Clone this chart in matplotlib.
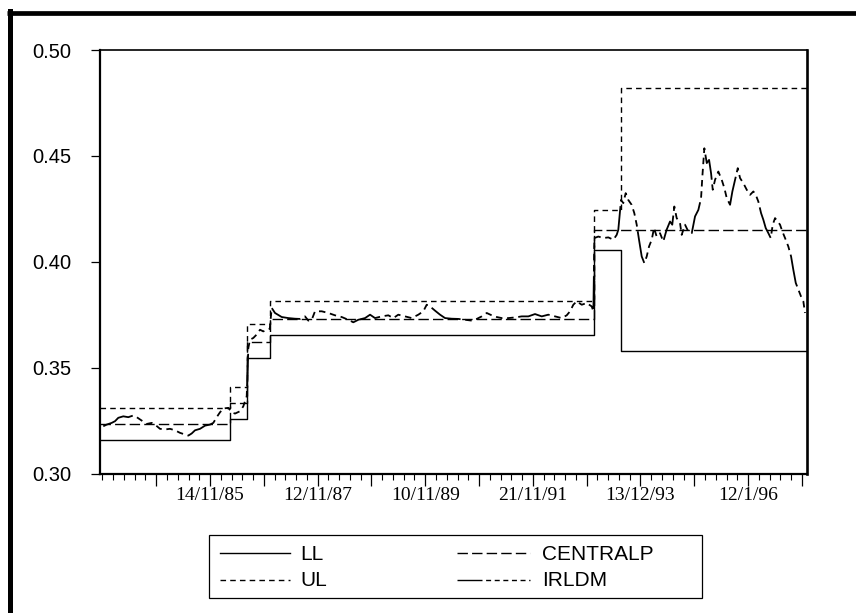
import matplotlib
matplotlib.use("Agg")
import matplotlib.pyplot as plt
from matplotlib.lines import Line2D
from matplotlib.patches import Rectangle
from matplotlib.ticker import FixedLocator, FormatStrFormatter
import numpy as np

# Band regimes: start of each parity grid (axis years), end of sample
regime_start = [1983.83, 1986.25, 1986.56, 1986.99, 1993.01, 1993.51]
regime_end = 1996.97
central = [0.3233, 0.3333, 0.3622, 0.3731, 0.4148, 0.4148]
upper = [0.3311, 0.3409, 0.3706, 0.3817, 0.4245, 0.4819]
lower = [0.3159, 0.3256, 0.3546, 0.3652, 0.4057, 0.3580]

# IRLDM spot rate
irl_t = [1983.891, 1983.955, 1984.047, 1984.109, 1984.170, 1984.263, 1984.356, 1984.449,
         1984.512, 1984.605, 1984.698, 1984.791, 1984.852, 1984.945, 1985.038, 1985.131,
         1985.224, 1985.317, 1985.410, 1985.471, 1985.534, 1985.596, 1985.689, 1985.782,
         1985.874, 1985.936, 1985.999, 1986.060, 1986.122, 1986.215, 1986.278, 1986.339,
         1986.432, 1986.493, 1986.557, 1986.587, 1986.618, 1986.679, 1986.741, 1986.804,
         1986.865, 1986.928, 1986.985, 1987.021, 1987.083, 1987.207, 1987.330, 1987.454,
         1987.547, 1987.640, 1987.702, 1987.765, 1987.826, 1987.951, 1988.073, 1988.198,
         1988.322, 1988.445, 1988.538, 1988.631, 1988.756, 1988.849, 1988.941, 1989.066,
         1989.189, 1989.282, 1989.374, 1989.499, 1989.623, 1989.746, 1989.839, 1989.902,
         1989.964, 1990.057, 1990.150, 1990.243, 1990.367, 1990.490, 1990.614, 1990.739,
         1990.832, 1990.925, 1991.018, 1991.110, 1991.203, 1991.296, 1991.419, 1991.544,
         1991.668, 1991.791, 1991.915, 1992.040, 1992.162, 1992.287, 1992.411, 1992.504,
         1992.566, 1992.627, 1992.690, 1992.783, 1992.876, 1992.969, 1993.000, 1993.018,
         1993.092, 1993.185, 1993.278, 1993.371, 1993.433, 1993.463, 1993.514, 1993.556,
         1993.600, 1993.648, 1993.711, 1993.760, 1993.805, 1993.848, 1993.898, 1993.946,
         1993.991, 1994.034, 1994.084, 1994.127, 1994.176, 1994.238, 1994.299, 1994.361,
         1994.424, 1994.466, 1994.504, 1994.548, 1994.610, 1994.641, 1994.703, 1994.764,
         1994.828, 1994.889, 1994.951, 1995.001, 1995.025, 1995.062, 1995.107, 1995.150,
         1995.187, 1995.218, 1995.261, 1995.322, 1995.385, 1995.434, 1995.479, 1995.540,
         1995.583, 1995.633, 1995.683, 1995.726, 1995.787, 1995.850, 1995.912, 1995.973,
         1996.018, 1996.066, 1996.116, 1996.159, 1996.203, 1996.252, 1996.296, 1996.333,
         1996.376, 1996.426, 1996.469, 1996.512, 1996.562, 1996.623, 1996.674, 1996.716,
         1996.761, 1996.809, 1996.859, 1996.902, 1996.933]
irl_v = [0.3223, 0.3231, 0.3239, 0.3247, 0.3263, 0.3270, 0.3266, 0.3274,
         0.3266, 0.3250, 0.3234, 0.3239, 0.3231, 0.3211, 0.3208, 0.3211,
         0.3204, 0.3192, 0.3184, 0.3179, 0.3189, 0.3204, 0.3211, 0.3226,
         0.3231, 0.3239, 0.3266, 0.3289, 0.3307, 0.3310, 0.3289, 0.3283,
         0.3294, 0.3317, 0.3365, 0.3593, 0.3632, 0.3640, 0.3656, 0.3679,
         0.3671, 0.3679, 0.3683, 0.3782, 0.3758, 0.3739, 0.3734, 0.3731,
         0.3730, 0.3742, 0.3722, 0.3726, 0.3766, 0.3766, 0.3758, 0.3747,
         0.3739, 0.3726, 0.3714, 0.3726, 0.3734, 0.3750, 0.3734, 0.3742,
         0.3747, 0.3734, 0.3750, 0.3742, 0.3734, 0.3750, 0.3766, 0.3797,
         0.3789, 0.3769, 0.3750, 0.3734, 0.3731, 0.3730, 0.3726, 0.3722,
         0.3730, 0.3742, 0.3758, 0.3747, 0.3739, 0.3734, 0.3734, 0.3737,
         0.3742, 0.3742, 0.3753, 0.3742, 0.3750, 0.3742, 0.3734, 0.3747,
         0.3766, 0.3797, 0.3813, 0.3797, 0.3805, 0.3789, 0.3766, 0.4112,
         0.4119, 0.4112, 0.4115, 0.4104, 0.4127, 0.4151, 0.4292, 0.4277,
         0.4324, 0.4292, 0.4269, 0.4230, 0.4175, 0.4104, 0.4025, 0.3994,
         0.4025, 0.4072, 0.4104, 0.4159, 0.4119, 0.4135, 0.4096, 0.4151,
         0.4190, 0.4175, 0.4261, 0.4206, 0.4183, 0.4127, 0.4175, 0.4143,
         0.4135, 0.4214, 0.4245, 0.4300, 0.4402, 0.4536, 0.4466, 0.4481,
         0.4418, 0.4340, 0.4387, 0.4426, 0.4387, 0.4348, 0.4300, 0.4269,
         0.4332, 0.4387, 0.4442, 0.4395, 0.4371, 0.4340, 0.4316, 0.4332,
         0.4316, 0.4284, 0.4230, 0.4198, 0.4159, 0.4135, 0.4112, 0.4175,
         0.4206, 0.4190, 0.4175, 0.4143, 0.4112, 0.4072, 0.4025, 0.3962,
         0.3900, 0.3868, 0.3836, 0.3813, 0.3758]

tick_pos = [1985.875, 1987.875, 1989.875, 1991.875, 1993.875, 1995.875]
tick_labels = ["14/11/85", "12/11/87", "10/11/89", "21/11/91", "13/12/93", "12/1/96"]
y_ticks = [0.30, 0.35, 0.40, 0.45, 0.50]

series_names = ["LL", "UL", "CENTRALP", "IRLDM"]
styles = {
    "LL": dict(lw=1.0, dashes=None),
    "UL": dict(lw=1.0, dashes=(4.0, 3.0)),
    "CENTRALP": dict(lw=1.0, dashes=(7.5, 3.0)),
    "IRLDM": dict(lw=1.3, dashes=(18.0, 2.6, 3.6, 2.6, 3.6, 2.6, 3.6, 2.6,
                                  3.6, 2.6, 3.6, 2.6)),
}

SANS = "Liberation Sans"
SERIF = "Liberation Serif"

fig = plt.figure(figsize=(8.56, 6.13), dpi=100)
W, H = 856.0, 613.0


def fx(px):
    return px / W


def fy(py):
    return 1.0 - py / H


ax = fig.add_axes([fx(100), fy(473.5), fx(807) - fx(100), fy(50) - fy(473.5)])


def styled(line, name, lw=None):
    st = styles[name]
    line.set_color("black")
    line.set_linewidth(st["lw"] if lw is None else lw)
    if st["dashes"] is not None:
        line.set_dashes(st["dashes"])
    return line


step_x = regime_start + [regime_end]
for name, vals in (("LL", lower), ("UL", upper), ("CENTRALP", central)):
    (ln,) = ax.plot(step_x, vals + [vals[-1]], drawstyle="steps-post")
    styled(ln, name)

(ln,) = ax.plot(irl_t, irl_v)
styled(ln, "IRLDM")
ln.set_dash_joinstyle("round")

ax.set_xlim(1983.83, regime_end)
ax.set_ylim(0.30, 0.50)

# y axis
ax.yaxis.set_major_locator(FixedLocator(y_ticks))
ax.yaxis.set_major_formatter(FormatStrFormatter("%.2f"))
ax.tick_params(axis="y", direction="out", length=6.5, width=0.9, pad=14,
               labelsize=14.5, right=False)
for lab in ax.get_yticklabels():
    lab.set_fontfamily(SANS)

# x axis: yearly major ticks, labelled every second year
majors = np.arange(1984.875, 1997.0, 1.0)
ax.xaxis.set_major_locator(FixedLocator(majors))
ax.set_xticklabels([tick_labels[tick_pos.index(m)] if m in tick_pos else "" for m in majors])
ax.xaxis.set_minor_locator(FixedLocator(np.arange(1983.875, 1996.97, 0.2)))
ax.tick_params(axis="x", which="major", direction="out", length=8.5, width=0.9,
               pad=1.5, labelsize=14, top=False)
ax.tick_params(axis="x", which="minor", direction="out", length=4.5, width=0.8, top=False)
for lab in ax.get_xticklabels():
    lab.set_fontfamily(SERIF)

for side, lw in (("left", 1.6), ("bottom", 1.6), ("right", 1.9), ("top", 1.2)):
    ax.spines[side].set_linewidth(lw)
    ax.spines[side].set_color("black")

# legend box below the plot
fig.add_artist(Rectangle((fx(209), fy(598)), fx(702) - fx(209), fy(535) - fy(598),
                         transform=fig.transFigure, fill=False, edgecolor="black",
                         linewidth=0.9))
entries = [
    ("LL", 220, 290, 300, 553),
    ("UL", 220, 290, 300, 580),
    ("CENTRALP", 457, 530, 542, 553),
    ("IRLDM", 457, 530, 542, 580),
]
for name, x0, x1, xt, yy in entries:
    sample = Line2D([fx(x0), fx(x1)], [fy(yy), fy(yy)], transform=fig.transFigure)
    styled(sample, name, lw=1.0)
    fig.add_artist(sample)
    fig.text(fx(xt), fy(yy + 1), name, ha="left", va="center", fontsize=15,
             family=SANS)

# outer frame (left and top edges)
fig.add_artist(Line2D([fx(9.8), fx(9.8)], [fy(10.5), 0.0], transform=fig.transFigure,
                      color="black", linewidth=3.6, solid_capstyle="projecting"))
fig.add_artist(Line2D([fx(7.5), 1.0], [fy(13), fy(13)], transform=fig.transFigure,
                      color="black", linewidth=3.4, solid_capstyle="butt"))

fig.savefig("out.png", dpi=100)
